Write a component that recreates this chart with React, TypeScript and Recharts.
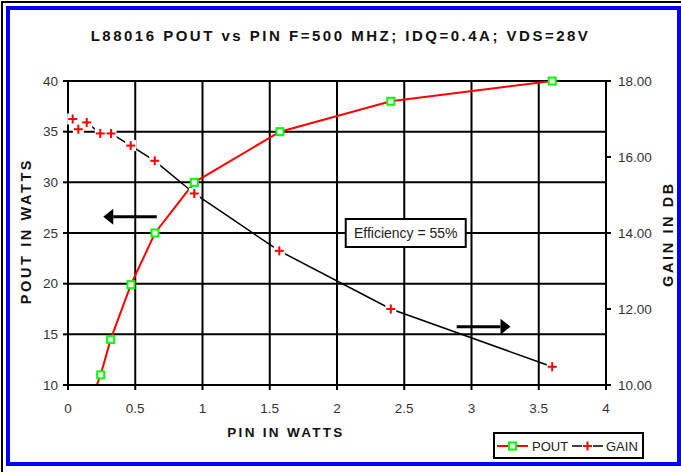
import { LineChart, Line, XAxis, YAxis, CartesianGrid, ReferenceLine, ReferenceDot, Label } from 'recharts';

const chartTitle = 'L88016 POUT vs PIN F=500 MHZ; IDQ=0.4A; VDS=28V';

// x axis: input power
const pinTicks = [0, 0.5, 1, 1.5, 2, 2.5, 3, 3.5, 4];
const poutTicks = [10, 15, 20, 25, 30, 35, 40];
const gainTicks = [10, 12, 14, 16, 18];

// POUT series (left axis), first point sits below the axis and gets clipped
const poutPin = [0.2, 0.243, 0.317, 0.468, 0.647, 0.939, 1.576, 2.4, 3.6];
const poutWatts = [9.5, 11.0, 14.5, 19.9, 25.0, 30.0, 35.0, 38.0, 40.0];

// GAIN series (right axis)
const gainPin = [0.035, 0.077, 0.139, 0.24, 0.32, 0.466, 0.645, 0.939, 1.571, 2.4, 3.6];
const gainDb = [17.0, 16.73, 16.91, 16.62, 16.62, 16.3, 15.9, 15.04, 13.53, 12.0, 10.48];

const poutData = poutPin.map((x, i) => ({ x, y: poutWatts[i] }));
// markers only for points inside the axis range (so they don't get clipped at the top)
const poutMarks = poutData.filter((d) => d.y >= 10);
const gainData = gainPin.map((x, i) => ({ x, y: gainDb[i] }));

const FONT = '"Liberation Sans", Arial, Helvetica, sans-serif';

const PoutDot = (props: any) => {
  const { cx, cy, index } = props;
  return (
    <rect key={`pd-${index}`} x={cx - 3.5} y={cy - 3.5} width={7} height={7}
      fill="#fff" stroke="#00ff00" strokeWidth={2} />
  );
};

const GainDot = (props: any) => {
  const { cx, cy, index } = props;
  return (
    <g key={`gd-${index}`}>
      <rect x={cx - 5.5} y={cy - 5.5} width={11} height={11} fill="#fff" />
      <line x1={cx - 4.5} y1={cy} x2={cx + 4.5} y2={cy} stroke="#ff0000" strokeWidth={2} />
      <line x1={cx} y1={cy - 4.5} x2={cx} y2={cy + 4.5} stroke="#ff0000" strokeWidth={2} />
    </g>
  );
};

const Arrow = (props: any) => {
  const { x1, y1, x2, y2 } = props;
  const dir = Math.sign(x2 - x1);
  const base = x2 - dir * 10;
  return (
    <g>
      <line x1={x1} y1={y1} x2={base} y2={y2} stroke="#000" strokeWidth={3} />
      <polygon points={`${x2},${y2} ${base},${y2 - 8} ${base},${y2 + 8}`} fill="#000" />
    </g>
  );
};

const EffBox = (props: any) => {
  const { cx, cy } = props;
  return (
    <g>
      <rect x={cx - 60} y={cy - 14} width={120} height={28} fill="#fff" stroke="#000" strokeWidth={2} />
      <text x={cx} y={cy + 5} textAnchor="middle" fontSize={14} fontFamily={FONT} fill="#222">
        Efficiency = 55%
      </text>
    </g>
  );
};

const axisTitle = (text: string, dx: number, dy: number, rotate: boolean) => (props: any) => {
  const vb = props.viewBox;
  const x = vb.x + dx;
  const y = rotate ? vb.y + vb.height / 2 + dy : vb.y + dy;
  return (
    <text x={x} y={y} textAnchor="middle" dominantBaseline={rotate ? 'central' : 'auto'}
      transform={rotate ? `rotate(-90 ${x} ${y})` : undefined}
      fontSize={rotate ? 14.5 : 13.5} fontWeight="bold" fontFamily={FONT} fill="#111"
      style={{ letterSpacing: rotate ? '2.6px' : '2.3px' }}>
      {text}
    </text>
  );
};

const tickStyle = { fontSize: 13.5, fontFamily: FONT, fill: '#333' };

const App = () => {
  return (
    <div style={{ position: 'absolute', left: 0, top: 0, width: 681, height: 472, overflow: 'hidden', background: '#fff' }}>
      <div style={{ position: 'absolute', left: 1, top: 1, width: 700, height: 500, border: '2px solid #000' }} />
      <div style={{ position: 'absolute', left: 6, top: 6, width: 675, height: 460, border: '4px solid #0000ff', boxSizing: 'border-box' }} />
      <div style={{
        position: 'absolute', left: 0, top: 28, width: 681, textAlign: 'center', fontFamily: FONT,
        fontWeight: 'bold', fontSize: 15, letterSpacing: '2.5px', color: '#111', lineHeight: '16px',
      }}>
        {chartTitle}
      </div>
      <LineChart width={681} height={472} style={{ position: 'absolute', left: 0, top: 0 }}
        margin={{ top: 81, right: 10, bottom: 27, left: 10 }}>
        <CartesianGrid yAxisId="left" stroke="#000" strokeWidth={2} />
        <XAxis type="number" dataKey="x" domain={[0, 4]} ticks={pinTicks} height={60}
          tick={tickStyle} tickSize={5} tickMargin={13}
          axisLine={{ stroke: '#000', strokeWidth: 2 }} tickLine={{ stroke: '#000', strokeWidth: 2 }}
          tickFormatter={(v) => String(v)}>
          <Label content={axisTitle('PIN IN WATTS', 218, 52, false)} />
        </XAxis>
        <YAxis yAxisId="left" type="number" domain={[10, 40]} ticks={poutTicks} allowDataOverflow
          width={58} tick={tickStyle} tickSize={5} tickMargin={5}
          axisLine={{ stroke: '#000', strokeWidth: 2 }} tickLine={{ stroke: '#000', strokeWidth: 2 }}>
          <Label content={axisTitle('POUT IN WATTS', 15.5, -2, true)} />
        </YAxis>
        <YAxis yAxisId="right" orientation="right" type="number" domain={[10, 18]} ticks={gainTicks}
          width={65} tick={tickStyle} tickSize={5} tickMargin={7}
          tickFormatter={(v) => Number(v).toFixed(2)}
          axisLine={{ stroke: '#000', strokeWidth: 2 }} tickLine={{ stroke: '#000', strokeWidth: 2 }}>
          <Label content={axisTitle('GAIN IN DB', 62, 1, true)} />
        </YAxis>
        <YAxis yAxisId="leftMarks" type="number" domain={[10, 40]} hide />
        <Line yAxisId="left" data={poutData} dataKey="y" type="linear" stroke="#ff0000" strokeWidth={2}
          dot={false} activeDot={false} isAnimationActive={false} name="POUT" />
        <Line yAxisId="leftMarks" data={poutMarks} dataKey="y" type="linear" stroke="none"
          dot={PoutDot} activeDot={false} isAnimationActive={false} legendType="none" />
        <Line yAxisId="right" data={gainData} dataKey="y" type="linear" stroke="#000" strokeWidth={1.5}
          dot={GainDot} activeDot={false} isAnimationActive={false} name="GAIN" />
        <ReferenceLine yAxisId="left" segment={[{ x: 0.66, y: 26.6 }, { x: 0.262, y: 26.6 }]} shape={Arrow} />
        <ReferenceLine yAxisId="left" segment={[{ x: 2.89, y: 15.76 }, { x: 3.29, y: 15.76 }]} shape={Arrow} />
        <ReferenceDot yAxisId="left" x={2.511} y={25} r={1} shape={EffBox} />
      </LineChart>
      <svg width={151} height={27} style={{ position: 'absolute', left: 493, top: 432 }}>
        <rect x={1} y={1} width={149} height={25} fill="#fff" stroke="#000" strokeWidth={2} />
        <line x1={4} y1={14} x2={35} y2={14} stroke="#ff0000" strokeWidth={2} />
        <rect x={16} y={10.5} width={7} height={7} fill="#fff" stroke="#00ff00" strokeWidth={2} />
        <text x={39} y={18.5} fontSize={13} fontFamily={FONT} fill="#222">POUT</text>
        <line x1={79} y1={14} x2={110} y2={14} stroke="#000" strokeWidth={1.5} />
        <rect x={89} y={8.5} width={11} height={11} fill="#fff" />
        <line x1={90} y1={14} x2={99} y2={14} stroke="#ff0000" strokeWidth={2} />
        <line x1={94.5} y1={9.5} x2={94.5} y2={18.5} stroke="#ff0000" strokeWidth={2} />
        <text x={113} y={18.5} fontSize={13} fontFamily={FONT} fill="#222">GAIN</text>
      </svg>
    </div>
  );
};

export default App;
